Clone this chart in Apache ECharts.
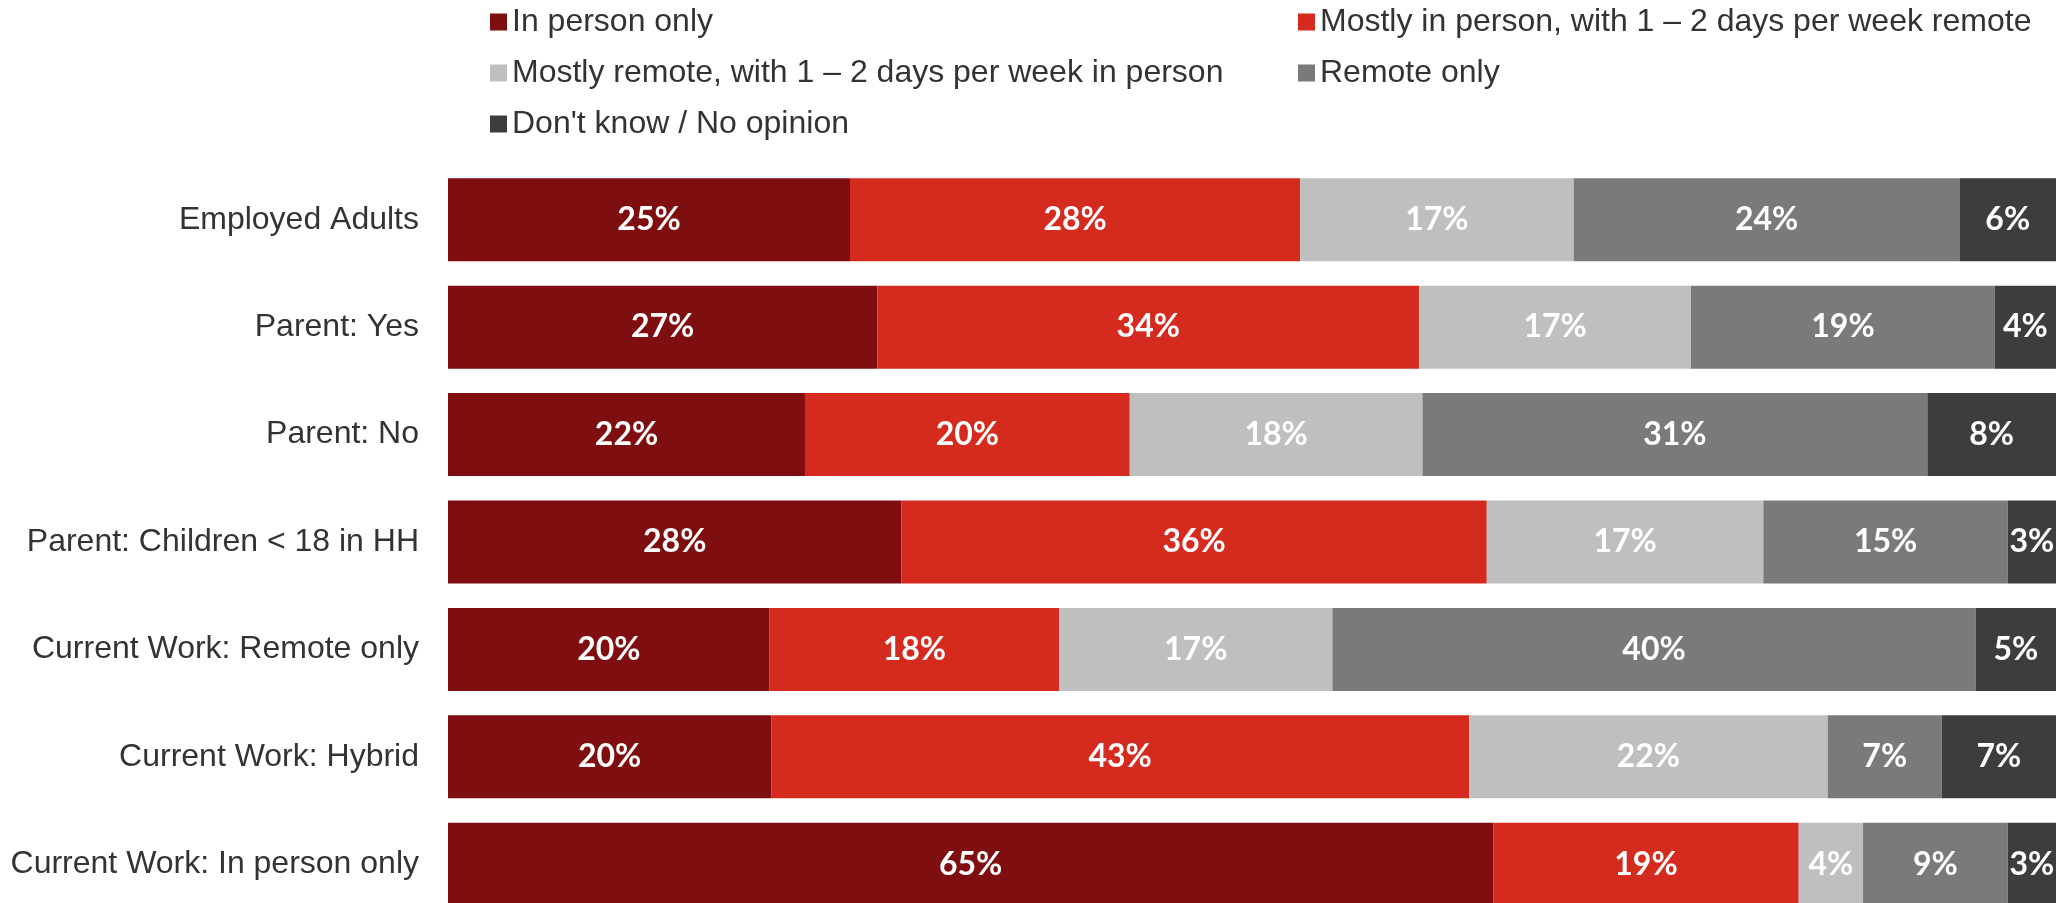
<!DOCTYPE html>
<html>
<head>
<meta charset="utf-8">
<script src="https://cdn.jsdelivr.net/npm/echarts@6/dist/echarts.min.js"></script>
<style>
  html, body { margin: 0; padding: 0; background: #fff; }
  #workMode { width: 2067px; height: 903px; }
</style>
</head>
<body>
<div id="workMode"></div>
<script>
  // groups, top to bottom
  var categories = [
    'Employed Adults',
    'Parent: Yes',
    'Parent: No',
    'Parent: Children < 18 in HH',
    'Current Work: Remote only',
    'Current Work: Hybrid',
    'Current Work: In person only'
  ];

  // shares in % (labels are rounded)
  var inPersonOnly   = [25, 26.7, 22.2, 28.2, 20, 20.1, 65];
  var mostlyInPerson = [28, 33.7, 20.2, 36.4, 18, 43.4, 19];
  var mostlyRemote   = [17, 16.9, 18.2, 17.2, 17, 22.3, 4];
  var remoteOnly     = [24, 18.9, 31.4, 15.2, 40, 7.1, 9];
  var dontKnow       = [6, 3.9, 8.0, 3.0, 5, 7.1, 3];

  var names = [
    'In person only',
    'Mostly in person, with 1 \u2013 2 days per week remote',
    'Mostly remote, with 1 \u2013 2 days per week in person',
    'Remote only',
    "Don't know / No opinion"
  ];
  var colors = ['#7f0e10', '#d52b1e', '#bfbfbf', '#7a7a7a', '#3d3d3d'];
  var values = [inPersonOnly, mostlyInPerson, mostlyRemote, remoteOnly, dontKnow];

  var myChart = echarts.init(document.getElementById('workMode'));

  var legendText = {
    fontFamily: 'Liberation Sans',
    fontSize: 32,
    lineHeight: 32,
    color: '#333'
  };

  var series = names.map(function (n, i) {
    return {
      name: n,
      type: 'bar',
      stack: 'all',
      barWidth: 83,
      data: values[i],
      itemStyle: { color: colors[i] },
      label: {
        show: true,
        position: 'inside',
        color: '#fff',
        fontFamily: 'Lato',
        fontWeight: 'bold',
        fontSize: 32,
        formatter: function (p) { return Math.round(p.value) + '%'; }
      }
    };
  });

  myChart.setOption({
    animation: false,
    grid: {
      left: 448,
      right: 11,
      top: 166,
      height: 752,
      outerBoundsMode: 'none'
    },
    legend: [{
      left: 490,
      top: 6,
      padding: 0,
      orient: 'vertical',
      icon: 'rect',
      itemWidth: 17,
      itemHeight: 17,
      itemGap: 19,
      textStyle: legendText,
      data: [names[0], names[2], names[4]]
    }, {
      left: 1298,
      top: 6,
      padding: 0,
      orient: 'vertical',
      icon: 'rect',
      itemWidth: 17,
      itemHeight: 17,
      itemGap: 19,
      textStyle: legendText,
      data: [names[1], names[3]]
    }],
    xAxis: {
      type: 'value',
      min: 0,
      max: 100,
      show: false
    },
    yAxis: {
      type: 'category',
      inverse: true,
      data: categories,
      axisLine: { show: false },
      axisTick: { show: false },
      axisLabel: {
        margin: 29,
        fontFamily: 'Liberation Sans',
        fontSize: 32,
        color: '#333'
      }
    },
    series: series
  });

  window.addEventListener('resize', function () {
    myChart.resize();
  });
</script>
</body>
</html>
